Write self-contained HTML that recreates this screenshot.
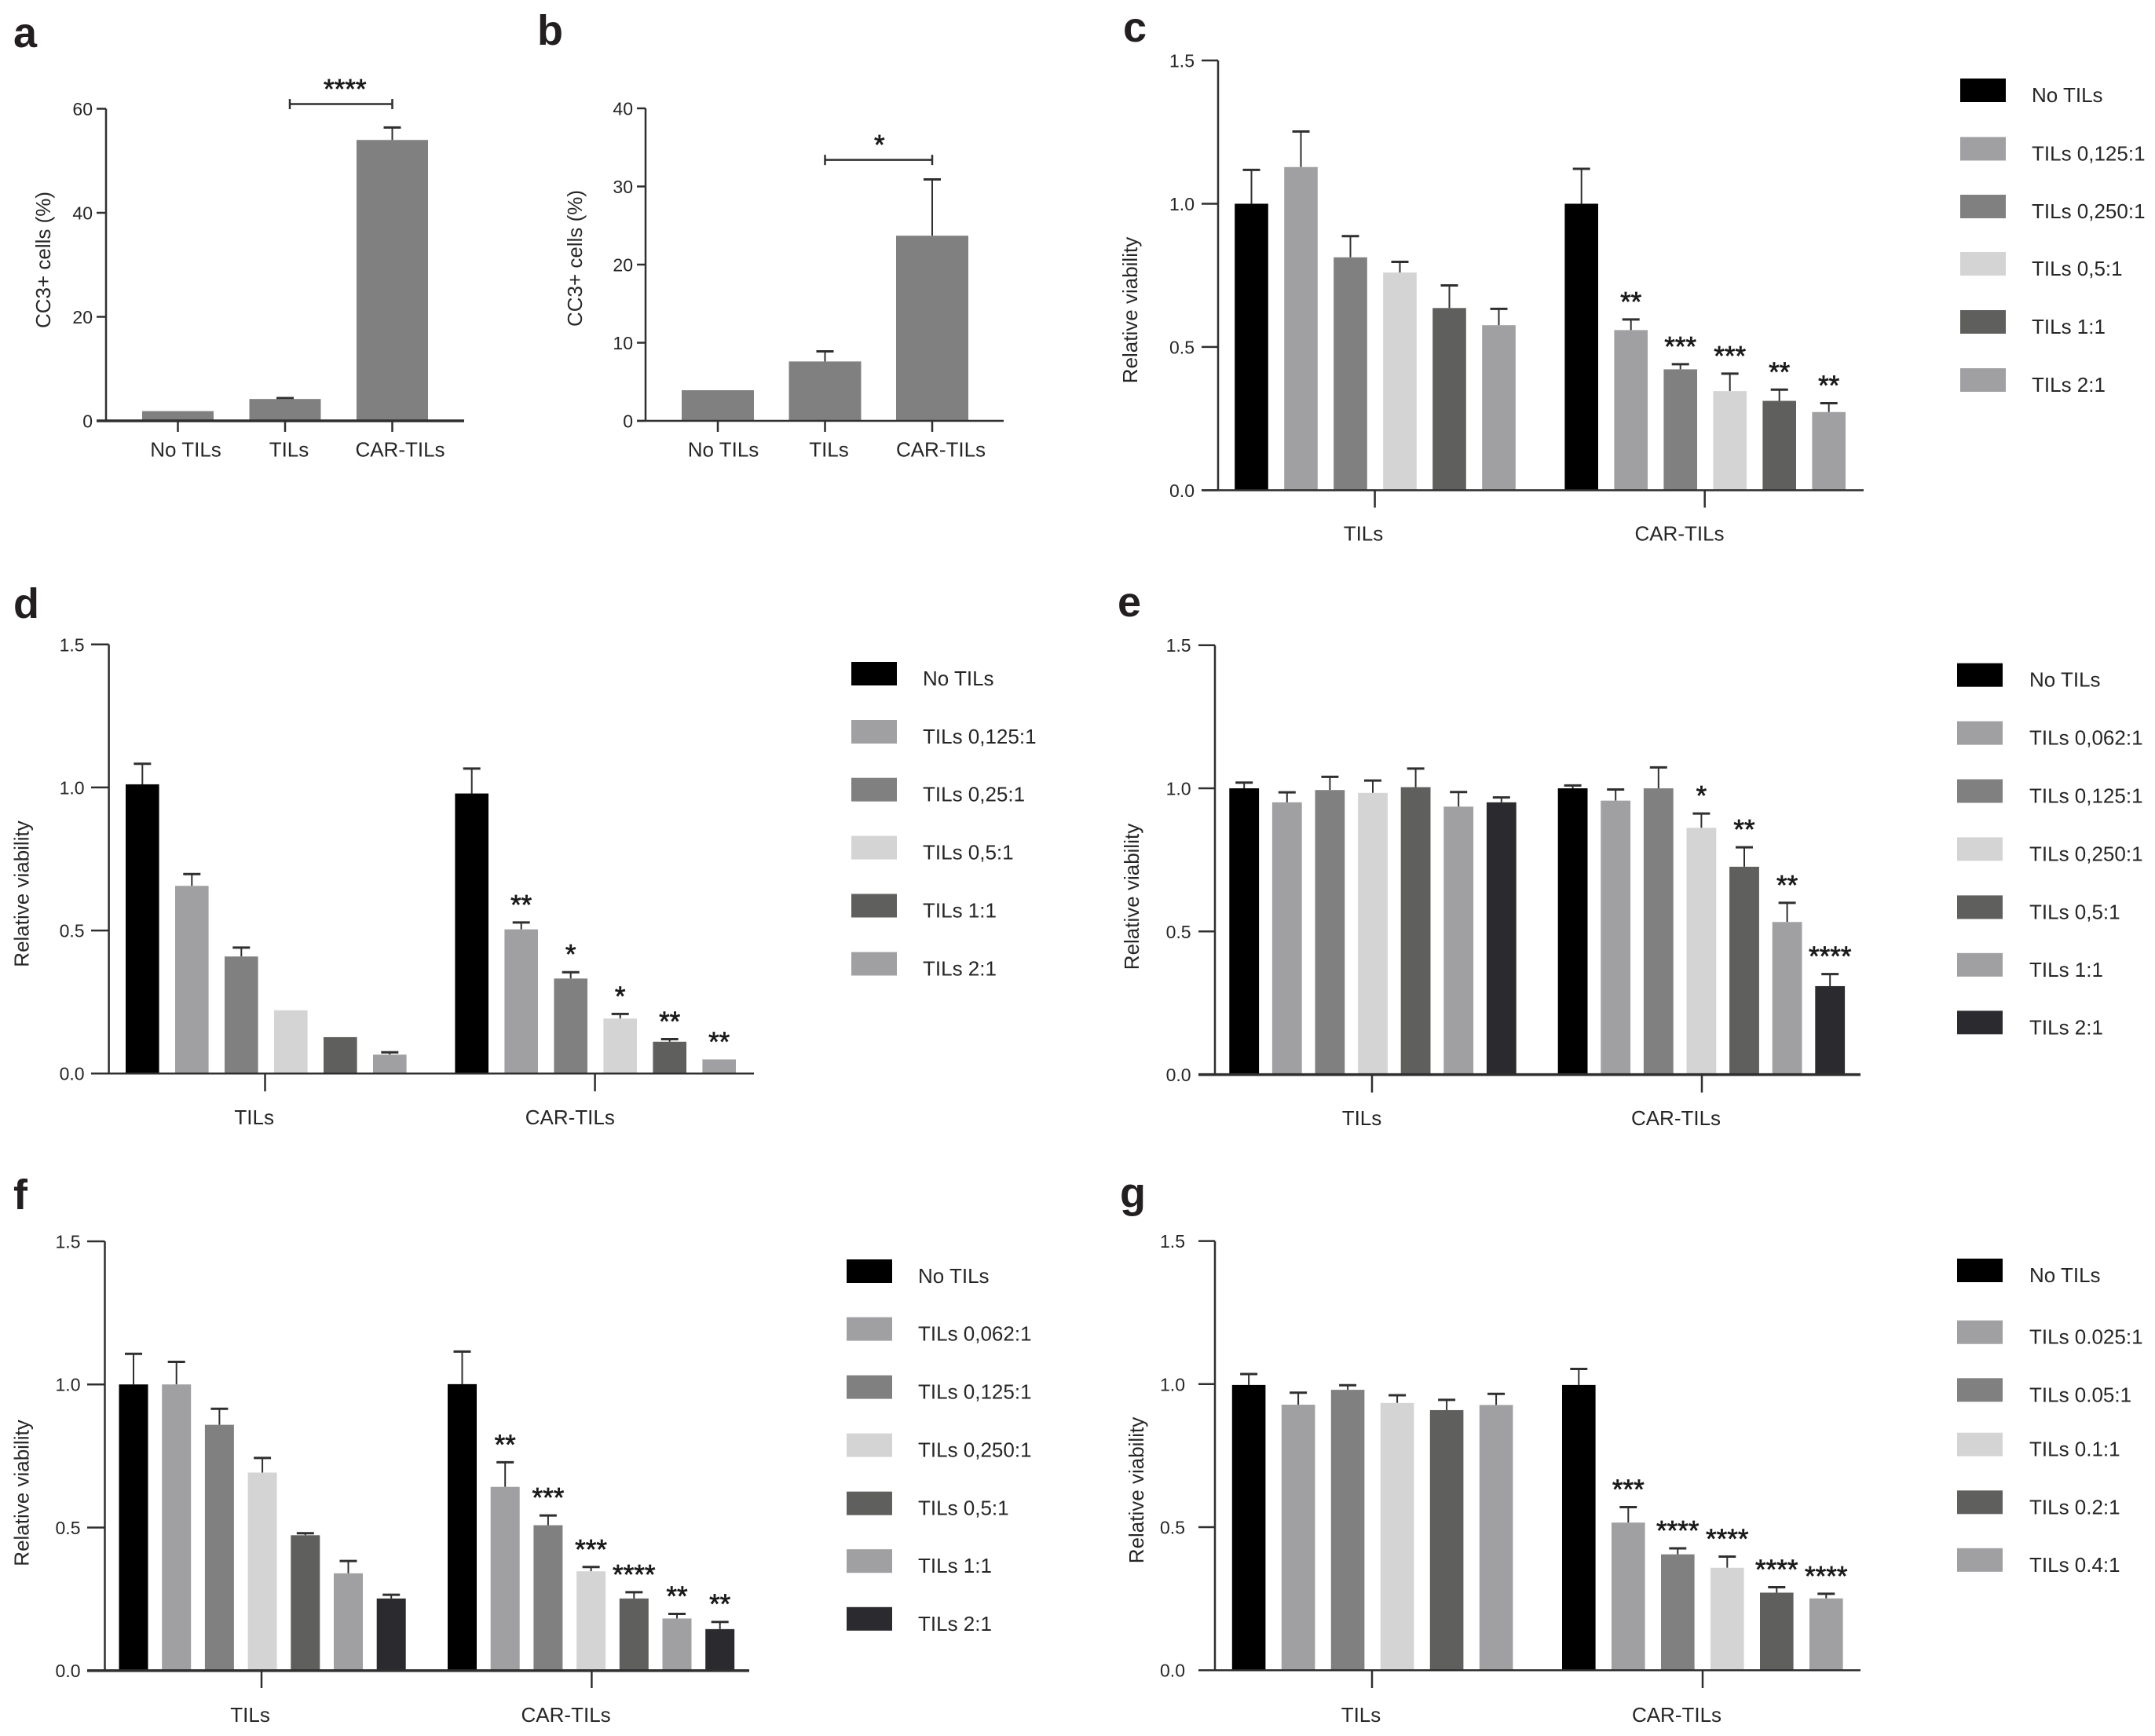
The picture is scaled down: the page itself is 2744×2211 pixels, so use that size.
<!DOCTYPE html>
<html lang="en">
<head>
<meta charset="utf-8">
<title>CC3+ cells and relative viability bar charts</title>
<style>
  html, body { margin: 0; padding: 0; background: #fff; }
  svg { display: block; font-family: "Liberation Sans", Arial, sans-serif; }
</style>
</head>
<body>
<svg id="figure" xmlns="http://www.w3.org/2000/svg" width="2744" height="2211" viewBox="0 0 2744 2211">
  <rect x="0" y="0" width="2744" height="2211" fill="#ffffff"></rect>
</svg>
<script>
// ---------- Data ----------
const ratioTicks = ['0.0', '0.5', '1.0', '1.5'];
const barCategories = ['No TILs', 'TILs', 'CAR-TILs'];
const groupCategories = ['TILs', 'CAR-TILs'];

const aTicks = ['0', '20', '40', '60'];
const aValues = [1.87, 4.2, 54];
const aErrors = [1.87, 4.37, 56.4];
const aBracketValue = 60.9;
const aBracketStars = '****';

const bTicks = ['0', '10', '20', '30', '40'];
const bValues = [3.92, 7.6, 23.7];
const bErrors = [3.92, 8.9, 30.9];
const bBracketValue = 33.4;
const bBracketStars = '*';

const cLegend = ['No TILs', 'TILs 0,125:1', 'TILs 0,250:1', 'TILs 0,5:1', 'TILs 1:1', 'TILs 2:1'];
const cTilsValues = [1.0, 1.128, 0.813, 0.76, 0.636, 0.576];
const cTilsErrors = [1.118, 1.252, 0.887, 0.797, 0.715, 0.633];
const cCarValues = [1.0, 0.559, 0.422, 0.346, 0.312, 0.273];
const cCarErrors = [1.122, 0.596, 0.44, 0.407, 0.351, 0.304];
const cCarStars = ['', '**', '***', '***', '**', '**'];

const dLegend = ['No TILs', 'TILs 0,125:1', 'TILs 0,25:1', 'TILs 0,5:1', 'TILs 1:1', 'TILs 2:1'];
const dTilsValues = [1.011, 0.656, 0.409, 0.221, 0.127, 0.066];
const dTilsErrors = [1.083, 0.697, 0.44, 0.221, 0.127, 0.074];
const dCarValues = [0.979, 0.504, 0.332, 0.192, 0.111, 0.049];
const dCarErrors = [1.066, 0.528, 0.354, 0.208, 0.12, 0.049];
const dCarStars = ['', '**', '*', '*', '**', '**'];

const eLegend = ['No TILs', 'TILs 0,062:1', 'TILs 0,125:1', 'TILs 0,250:1', 'TILs 0,5:1', 'TILs 1:1', 'TILs 2:1'];
const eTilsValues = [1.0, 0.951, 0.994, 0.984, 1.004, 0.936, 0.951];
const eTilsErrors = [1.02, 0.986, 1.04, 1.027, 1.069, 0.987, 0.968];
const eCarValues = [1.0, 0.957, 1.0, 0.862, 0.726, 0.533, 0.309];
const eCarErrors = [1.01, 0.996, 1.073, 0.912, 0.794, 0.6, 0.351];
const eCarStars = ['', '', '', '*', '**', '**', '****'];

const fLegend = ['No TILs', 'TILs 0,062:1', 'TILs 0,125:1', 'TILs 0,250:1', 'TILs 0,5:1', 'TILs 1:1', 'TILs 2:1'];
const fTilsValues = [1.0, 1.0, 0.859, 0.692, 0.473, 0.34, 0.252];
const fTilsErrors = [1.107, 1.079, 0.915, 0.743, 0.48, 0.383, 0.265];
const fCarValues = [1.001, 0.642, 0.508, 0.347, 0.252, 0.182, 0.145];
const fCarErrors = [1.115, 0.728, 0.542, 0.362, 0.274, 0.198, 0.17];
const fCarStars = ['', '**', '***', '***', '****', '**', '**'];

const gLegend = ['No TILs', 'TILs 0.025:1', 'TILs 0.05:1', 'TILs 0.1:1', 'TILs 0.2:1', 'TILs 0.4:1'];
const gTilsValues = [0.997, 0.928, 0.98, 0.934, 0.909, 0.927];
const gTilsErrors = [1.035, 0.97, 0.996, 0.961, 0.945, 0.966];
const gCarValues = [0.997, 0.516, 0.405, 0.358, 0.271, 0.251];
const gCarErrors = [1.053, 0.57, 0.426, 0.397, 0.29, 0.267];
const gCarStars = ['', '***', '****', '****', '****', '****'];

// ---------- Helpers ----------
const SVG_NS = 'http://www.w3.org/2000/svg';
const INK = '#2f2f2f';
const sixColors = ['#000000', '#a0a0a3', '#808080', '#d4d4d4', '#5f5f5d', '#a0a0a3'];
const sevenColors = ['#000000', '#a0a0a3', '#808080', '#d4d4d4', '#5f5f5d', '#a0a0a3', '#2b2b2f'];
const root = document.getElementById('figure');

function make(parent, tag, attrs, text) {
  const el = document.createElementNS(SVG_NS, tag);
  for (const key in attrs) el.setAttribute(key, attrs[key]);
  if (text !== undefined) el.textContent = text;
  parent.appendChild(el);
  return el;
}
function line(parent, x1, y1, x2, y2, width) {
  return make(parent, 'line', { x1: x1, y1: y1, x2: x2, y2: y2, stroke: INK, 'stroke-width': width });
}
function label(parent, x, y, str, size, anchor) {
  return make(parent, 'text', { x: x, y: y, 'font-size': size, 'text-anchor': anchor, fill: '#262626' }, str);
}
function starLabel(parent, x, y, str) {
  return make(parent, 'text', { x: x, y: y, 'font-size': 35, 'text-anchor': 'middle', fill: '#1a1a1a', stroke: '#1a1a1a', 'stroke-width': 0.7 }, str);
}
function slug(str) {
  return str.toLowerCase().replace(/[^a-z0-9]+/g, '-').replace(/^-|-$/g, '');
}

function drawPanelLetter(group, p) {
  const letter = make(group, 'text', { x: p.letterX, y: p.letterY, 'font-size': 54, 'font-weight': 'bold', fill: '#231f20' }, p.letter);
  
  
}

function drawAxes(group, p, ticks, maxValue, y) {
  const yAxis = line(group, p.axisX, p.yTop, p.axisX, p.y0, 2.5);
  
  
  const xAxis = line(group, p.tickLeft, p.y0, p.xEnd, p.y0, p.zeroWidth);
  
  
  ticks.forEach(function (t) {
    const v = parseFloat(t);
    const tick = line(group, p.tickLeft, y(v), p.axisX, y(v), 2.5);
    
    
    const tl = label(group, p.tickRight, y(v) + 8.5, t, 23, 'end');
    
    
  });
  const title = make(group, 'text', {
    transform: 'translate(' + (p.titleX + 9) + ',' + p.titleY + ') rotate(-90)',
    'font-size': 26, 'text-anchor': 'middle', fill: '#262626'
  }, p.title);
  
  
}

function drawBar(group, name, x, w, value, error, fill, y) {
  const mid = x + w / 2;
  if (error > value) {
    const stem = line(group, mid, y(error), mid, y(value), 2);
    
    
    const cap = line(group, mid - 11, y(error), mid + 11, y(error), 3);
    
    
  }
  const rect = make(group, 'rect', { x: x, y: y(value), width: w, height: y(0) - y(value), fill: fill });
  
  
}

// Panels a and b: three grey bars with a significance bracket
function drawSimplePanel(p, ticks, values, errors, bracketValue, bracketStars) {
  const group = make(root, 'g', {});
  
  
  const maxValue = parseFloat(ticks[ticks.length - 1]);
  const y = function (v) { return p.y0 - v / maxValue * (p.y0 - p.yTop); };
  const barX = function (i) { return p.barLeft + i * p.barStep; };
  drawPanelLetter(group, p);
  values.forEach(function (v, i) {
    drawBar(group, 'bar-' + slug(barCategories[i]), barX(i), p.barWidth, v, errors[i], '#808080', y);
    const mid = barX(i) + p.barWidth / 2;
    const tick = line(group, mid, p.y0, mid, p.tickBottom, 2.5);
    
    
    const cl = label(group, mid + p.labelDx[i], p.labelY, barCategories[i], 26, 'middle');
    
    
  });
  drawAxes(group, p, ticks, maxValue, y);
  const bx1 = barX(1) + p.barWidth / 2 + p.bracketDx;
  const bx2 = barX(2) + p.barWidth / 2;
  const by = y(bracketValue);
  const bar = line(group, bx1, by, bx2, by, 2.5);
  
  
  [bx1, bx2].forEach(function (bx) {
    const end = line(group, bx, by - 6.5, bx, by + 6.5, 2.5);
    
    
  });
  const stars = starLabel(group, (bx1 + bx2) / 2 + p.starDx, by - 26 + 19, bracketStars);
  
  
}

// Panels c-g: grouped bars with legend
function drawGroupedPanel(p, legend, tilsValues, tilsErrors, carValues, carErrors, carStars) {
  const group = make(root, 'g', {});
  
  
  const colors = legend.length === 7 ? sevenColors : sixColors;
  const maxValue = parseFloat(ratioTicks[ratioTicks.length - 1]);
  const y = function (v) { return p.y0 - v / maxValue * (p.y0 - p.yTop); };
  const barX = function (g, i) { return p.groupLeft[g] + i * p.barStep; };
  drawPanelLetter(group, p);

  tilsValues.forEach(function (v, i) {
    drawBar(group, 'bar-tils-' + slug(legend[i]), barX(0, i), p.barWidth, v, tilsErrors[i], colors[i], y);
  });
  carValues.forEach(function (v, i) {
    drawBar(group, 'bar-car-tils-' + slug(legend[i]), barX(1, i), p.barWidth, v, carErrors[i], colors[i], y);
    if (carStars[i]) {
      const stars = starLabel(group, barX(1, i) + p.barWidth / 2, y(carErrors[i]) - 29.5 + 19, carStars[i]);
      
      
    }
  });
  drawAxes(group, p, ratioTicks, maxValue, y);

  groupCategories.forEach(function (name, g) {
    const tick = line(group, p.groupTick[g], p.y0, p.groupTick[g], p.tickBottom, 2.5);
    
    
    const gl = label(group, p.groupLabel[g], p.labelY, name, 26, 'middle');
    
    
  });

  legend.forEach(function (name, i) {
    const top = p.legendTops[i];
    const swatch = make(group, 'rect', { x: p.legendX, y: top, width: 58, height: 30, fill: colors[i] });
    
    
    const text = label(group, p.legendTextX, top + 30, name, 26, 'start');
    
    
  });
}

// ---------- Layout ----------
drawSimplePanel({
  letter: 'a', letterX: 17, letterY: 60, axisX: 135, yTop: 138.5, y0: 536, xEnd: 591, tickLeft: 123, tickRight: 118,
  tickBottom: 550, zeroWidth: 3.5, barLeft: 181, barStep: 136.5, barWidth: 91, labelDx: [10, 5, 10], labelY: 581.5,
  title: 'CC3+ cells (%)', titleX: 55, titleY: 331, bracketDx: 6, starDx: 5
}, aTicks, aValues, aErrors, aBracketValue, aBracketStars);

drawSimplePanel({
  letter: 'b', letterX: 684, letterY: 57, axisX: 822, yTop: 138, y0: 536, xEnd: 1278, tickLeft: 811, tickRight: 806,
  tickBottom: 550, zeroWidth: 2.5, barLeft: 868, barStep: 136.5, barWidth: 92, labelDx: [7, 5, 11], labelY: 581.5,
  title: 'CC3+ cells (%)', titleX: 732, titleY: 329, bracketDx: 0, starDx: 1
}, bTicks, bValues, bErrors, bBracketValue, bBracketStars);

drawGroupedPanel({
  letter: 'c', letterX: 1430, letterY: 53, axisX: 1551, yTop: 77, y0: 624.4, xEnd: 2373, tickLeft: 1530, tickRight: 1521,
  tickBottom: 646.5, zeroWidth: 2.5, groupLeft: [1572.2, 1992.4], barStep: 63, barWidth: 42.6,
  groupTick: [1750.6, 2170.7], groupLabel: [1736, 2138.5], labelY: 688.5,
  title: 'Relative viability', titleX: 1439, titleY: 395,
  legendX: 2496, legendTextX: 2587, legendTops: [100, 174.5, 248, 321, 395, 469]
}, cLegend, cTilsValues, cTilsErrors, cCarValues, cCarErrors, cCarStars);

drawGroupedPanel({
  letter: 'd', letterX: 17, letterY: 787, axisX: 138.6, yTop: 820.8, y0: 1367.2, xEnd: 960, tickLeft: 116, tickRight: 107.6,
  tickBottom: 1390, zeroWidth: 2.5, groupLeft: [160, 579.4], barStep: 63, barWidth: 42.6,
  groupTick: [337.5, 757.6], groupLabel: [323.7, 725.8], labelY: 1432,
  title: 'Relative viability', titleX: 27.5, titleY: 1138.5,
  legendX: 1084, legendTextX: 1175, legendTops: [843, 917, 990.7, 1064.6, 1138.5, 1212.5]
}, dLegend, dTilsValues, dTilsErrors, dCarValues, dCarErrors, dCarStars);

drawGroupedPanel({
  letter: 'e', letterX: 1423, letterY: 785, axisX: 1547, yTop: 821.7, y0: 1368.6, xEnd: 2369, tickLeft: 1526, tickRight: 1516.6,
  tickBottom: 1391.5, zeroWidth: 3.5, groupLeft: [1565.3, 1983.7], barStep: 54.6, barWidth: 37.8,
  groupTick: [1747, 2167], groupLabel: [1734, 2134], labelY: 1433,
  title: 'Relative viability', titleX: 1441, titleY: 1142,
  legendX: 2492, legendTextX: 2584, legendTops: [844.7, 918.6, 992.5, 1066.4, 1140.4, 1213.8, 1287.3]
}, eLegend, eTilsValues, eTilsErrors, eCarValues, eCarErrors, eCarStars);

drawGroupedPanel({
  letter: 'f', letterX: 17, letterY: 1540, axisX: 133.5, yTop: 1581, y0: 2127.7, xEnd: 954, tickLeft: 111, tickRight: 102.5,
  tickBottom: 2150, zeroWidth: 3.5, groupLeft: [151.5, 570], barStep: 54.7, barWidth: 37,
  groupTick: [333, 753.4], groupLabel: [318.6, 720.6], labelY: 2193,
  title: 'Relative viability', titleX: 27.5, titleY: 1901.5,
  legendX: 1078, legendTextX: 1169, legendTops: [1604, 1677.6, 1751.6, 1825.6, 1899.7, 1973.2, 2046.8]
}, fLegend, fTilsValues, fTilsErrors, fCarValues, fCarErrors, fCarStars);

drawGroupedPanel({
  letter: 'g', letterX: 1426, letterY: 1538, axisX: 1547, yTop: 1580.6, y0: 2127.2, xEnd: 2369, tickLeft: 1526, tickRight: 1509,
  tickBottom: 2150, zeroWidth: 2.5, groupLeft: [1568.8, 1989], barStep: 63, barWidth: 42.6,
  groupTick: [1747, 2168], groupLabel: [1733, 2135], labelY: 2193,
  title: 'Relative viability', titleX: 1447, titleY: 1898,
  legendX: 2492, legendTextX: 2584, legendTops: [1603, 1681.7, 1755.3, 1824.7, 1898.3, 1971.8]
}, gLegend, gTilsValues, gTilsErrors, gCarValues, gCarErrors, gCarStars);
</script>
</body>
</html>
